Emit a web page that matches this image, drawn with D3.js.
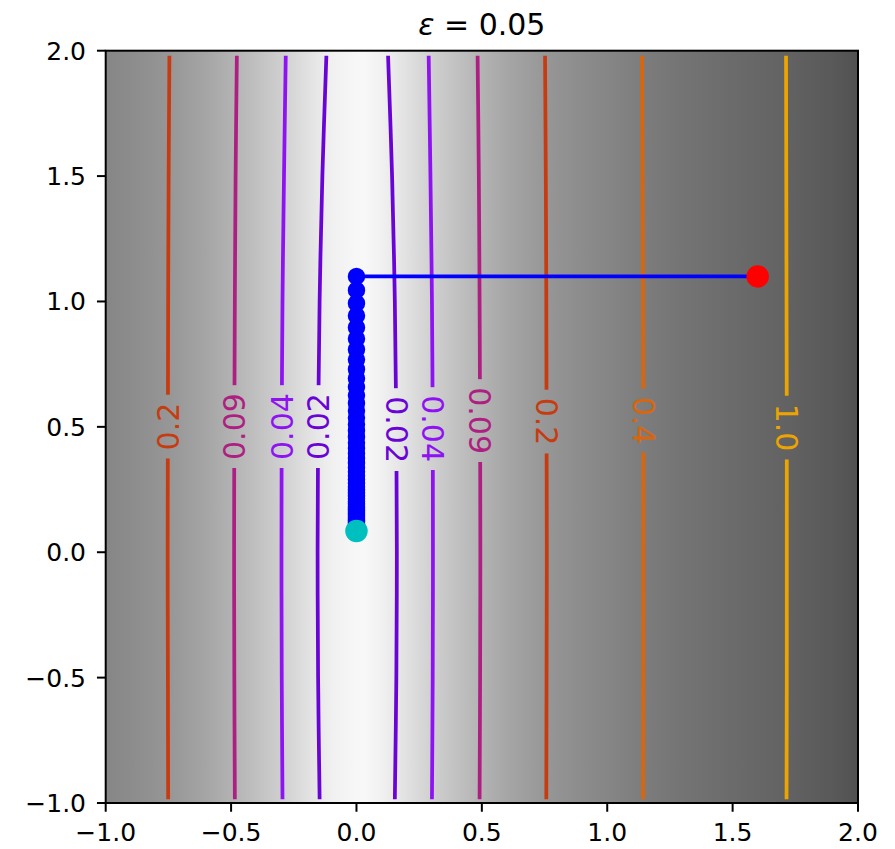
<!DOCTYPE html>
<html><head><meta charset="utf-8">
<script src="https://cdn.jsdelivr.net/npm/d3@7"></script>
<style>body{margin:0;background:#fff} text{font-family:"DejaVu Sans",sans-serif}</style>
</head><body>
<svg id="c" width="895" height="849"></svg>
<script>
// ---------------- data ----------------
const titleEps = "0.05";
const xTicks = [-1.0, -0.5, 0.0, 0.5, 1.0, 1.5, 2.0];
const yTicks = [-1.0, -0.5, 0.0, 0.5, 1.0, 1.5, 2.0];

// background gray profile (x -> gray level 0..255)
const bgX    = [-1.0,-0.9,-0.75,-0.6,-0.5,-0.4,-0.3,-0.2,-0.1,0.0,0.03,0.1,0.2,0.3,0.4,0.5,0.6,0.75,0.9,1.0,1.15,1.3,1.5,1.72,1.9,2.0];
const bgGray = [134, 140, 150, 165, 178, 192, 207, 224, 240, 247, 248, 241, 225, 208, 193, 179, 166, 151, 140, 134, 124, 116, 107, 98, 89, 81];

// contour lines: x positions at the sample heights contourY
const contourY = [1.98, 1.5, 1.0, 0.5, 0.0, -0.5, -0.985];
const c002L = [-0.120,-0.136,-0.147,-0.153,-0.155,-0.153,-0.147];
const c002R = [ 0.126, 0.142, 0.153, 0.159, 0.161, 0.159, 0.153];
const c004L = [-0.282,-0.289,-0.295,-0.298,-0.299,-0.298,-0.295];
const c004R = [ 0.288, 0.295, 0.301, 0.304, 0.305, 0.304, 0.301];
const c009L = [-0.477,-0.482,-0.485,-0.487,-0.488,-0.487,-0.485];
const c009R = [ 0.483, 0.488, 0.491, 0.493, 0.494, 0.493, 0.491];
const c02L  = [-0.746,-0.749,-0.751,-0.752,-0.753,-0.752,-0.751];
const c02R  = [ 0.752, 0.755, 0.757, 0.758, 0.759, 0.758, 0.757];
const c04R  = [ 1.139, 1.141, 1.143, 1.144, 1.144, 1.144, 1.143];
const c10R  = [ 1.713, 1.714, 1.715, 1.716, 1.716, 1.716, 1.715];
const contourLabels = ["0.02","0.02","0.04","0.04","0.09","0.09","0.2","0.2","0.4","1.0"];
const contourSides  = ["L","R","L","R","L","R","L","R","R","R"];
const labelY        = [0.501,0.489,0.501,0.493,0.501,0.525,0.501,0.521,0.525,0.497];
const contourXs     = [c002L,c002R,c004L,c004R,c009L,c009R,c02L,c02R,c04R,c10R];
const contourColors = ["#6a04d6","#6a04d6","#8e12f2","#8e12f2","#ad2082","#ad2082","#c63c10","#c63c10","#d9660c","#eca400"];

// gradient-descent path
const pathX = [1.6, 0.0,0.0,0.0,0.0,0.0,0.0,0.0,0.0,0.0,0.0,0.0,0.0,0.0,0.0,0.0,0.0,0.0,0.0,0.0,0.0,0.0,0.0,0.0,0.0,0.0,0.0,0.0,0.0,0.0,0.0,0.0,0.0,0.0,0.0,0.0,0.0,0.0,0.0,0.0,0.0,0.0,0.0,0.0,0.0,0.0,0.0,0.0,0.0,0.0,0.0,0.0];
const pathY = [1.1, 1.1,1.045,0.9928,0.9431,0.8960,0.8512,0.8086,0.7682,0.7298,0.6933,0.6586,0.6257,0.5944,0.5647,0.5364,0.5096,0.4841,0.4599,0.4369,0.4151,0.3943,0.3746,0.3559,0.3381,0.3212,0.3051,0.2899,0.2754,0.2616,0.2485,0.2361,0.2243,0.2131,0.2024,0.1923,0.1827,0.1736,0.1649,0.1566,0.1488,0.1414,0.1343,0.1276,0.1212,0.1151,0.1094,0.1039,0.0987,0.0938,0.0891,0.0846];
const startPt = [1.6, 1.1];
const endPt   = [0.0, 0.0846];

// ---------------- drawing ----------------
const svg = d3.select("#c");
const X0 = 105.7, X1 = 858, Y0 = 50.7, Y1 = 803;
const xs = d3.scaleLinear().domain([-1, 2]).range([X0, X1]);
const ys = d3.scaleLinear().domain([-1, 2]).range([Y1, Y0]);
const defs = svg.append("defs");

// background gradient
const grad = defs.append("linearGradient").attr("id","bg")
  .attr("gradientUnits","userSpaceOnUse")
  .attr("x1", xs(-1)).attr("x2", xs(2)).attr("y1",0).attr("y2",0);
bgX.forEach((x,i)=>{
  const g = bgGray[i];
  grad.append("stop").attr("offset", (x+1)/3).attr("stop-color", d3.rgb(g,g,g).formatHex());
});
svg.append("rect").attr("x",X0).attr("y",Y0).attr("width",X1-X0).attr("height",Y1-Y0).attr("fill","url(#bg)");

// contours with inline labels
const line = d3.line().x(d=>xs(d[0])).y(d=>ys(d[1])).curve(d3.curveCatmullRom);
const gC = svg.append("g");
contourXs.forEach((arr,i)=>{
  const pts = arr.map((x,j)=>[x, contourY[j]]);
  const ly = labelY[i];
  const lx = arr[3] + (arr[4]-arr[3])*((0.5-ly)/0.5);
  const px = xs(lx), py = ys(ly);
  const lab = gC.append("text")
    .attr("transform", `translate(${px},${py}) rotate(${contourSides[i]==="L"?-90:90})`)
    .attr("text-anchor","middle").attr("dy","0.36em")
    .attr("font-size", 30).attr("fill", contourColors[i])
    .text(contourLabels[i]);
  const tl = lab.node().getComputedTextLength();
  const m = defs.append("mask").attr("id","m"+i).attr("maskUnits","userSpaceOnUse")
    .attr("x",0).attr("y",0).attr("width",895).attr("height",849);
  m.append("rect").attr("x",0).attr("y",0).attr("width",895).attr("height",849).attr("fill","#fff");
  m.append("rect").attr("x",px-14).attr("y",py-tl/2-8).attr("width",28).attr("height",tl+16).attr("fill","#000");
  gC.insert("path","text").attr("d", line(pts)).attr("fill","none")
    .attr("stroke", contourColors[i]).attr("stroke-width",3.75)
    .attr("mask",`url(#m${i})`);
});

// path
const path = pathX.map((x,i)=>[x, pathY[i]]);
svg.append("path").attr("d", d3.line().x(d=>xs(d[0])).y(d=>ys(d[1]))(path))
  .attr("fill","none").attr("stroke","#0000ff").attr("stroke-width",3.75);
svg.append("g").selectAll("circle").data(path).join("circle")
  .attr("cx",d=>xs(d[0])).attr("cy",d=>ys(d[1])).attr("r",7.5)
  .attr("fill","#0000ff").attr("stroke","#0000ff").attr("stroke-width",2.5);
svg.append("circle").attr("cx",xs(startPt[0])).attr("cy",ys(startPt[1])).attr("r",10)
  .attr("fill","#ff0000").attr("stroke","#ff0000").attr("stroke-width",2.5);
svg.append("circle").attr("cx",xs(endPt[0])).attr("cy",ys(endPt[1])).attr("r",10)
  .attr("fill","#00bfbf").attr("stroke","#00bfbf").attr("stroke-width",2.5);

// frame
svg.append("rect").attr("x",X0).attr("y",Y0).attr("width",X1-X0).attr("height",Y1-Y0)
  .attr("fill","none").attr("stroke","#000").attr("stroke-width",2);

// axes
const fmt = d3.format(".1f");
const gx = svg.append("g");
xTicks.forEach(t=>{
  gx.append("line").attr("x1",xs(t)).attr("x2",xs(t)).attr("y1",Y1).attr("y2",Y1+8.75).attr("stroke","#000").attr("stroke-width",2);
  gx.append("text").attr("x",xs(t)).attr("y",841).attr("text-anchor","middle").attr("font-size",25).attr("fill","#000").text(fmt(t));
});
const gy = svg.append("g");
yTicks.forEach(t=>{
  gy.append("line").attr("x1",X0-8.75).attr("x2",X0).attr("y1",ys(t)).attr("y2",ys(t)).attr("stroke","#000").attr("stroke-width",2);
  gy.append("text").attr("x",86).attr("y",ys(t)).attr("dy","0.36em").attr("text-anchor","end").attr("font-size",25).attr("fill","#000").text(fmt(t));
});

// title
const tt = svg.append("text").attr("x",(X0+X1)/2).attr("y",35).attr("text-anchor","middle").attr("font-size",30).attr("fill","#000");
tt.append("tspan").attr("font-style","italic").text("ε");
tt.append("tspan").text(" = " + titleEps);
</script>
</body></html>
